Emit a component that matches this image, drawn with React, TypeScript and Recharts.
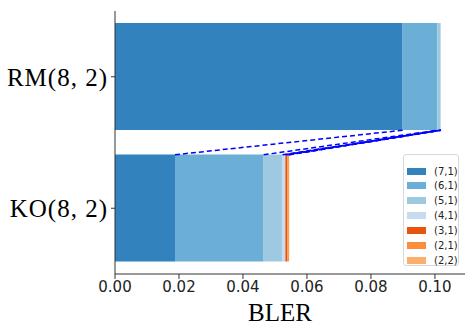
import { BarChart, Bar, XAxis, YAxis, ReferenceLine } from 'recharts';

const codes = ['RM(8, 2)', 'KO(8, 2)'];
const seriesNames = ['(7,1)', '(6,1)', '(5,1)', '(4,1)', '(3,1)', '(2,1)', '(2,2)'];
const rmValues = [0.0899, 0.0108, 0.0009, 0.0003, 0.0, 0.0, 0.0];
const koValues = [0.01875, 0.0277, 0.0059, 0.0009, 0.0006, 0.0005, 0.0001];
const xTicks = [0, 0.02, 0.04, 0.06, 0.08, 0.1];

const colors = ['#3182bd', '#6baed6', '#9ecae1', '#c6dbef', '#e6550d', '#fd8d3c', '#fdae6b'];

const chartData = codes.map((code, i) => {
  const vals = i === 0 ? rmValues : koValues;
  const row: Record<string, any> = { name: code };
  seriesNames.forEach((s, j) => {
    row[s] = vals[j];
  });
  return row;
});

// cumulative boundaries, used for the dashed connecting lines
const cumulative = (vals: number[]) => {
  let sum = 0;
  return vals.map((v) => (sum += v));
};
const rmCum = cumulative(rmValues);
const koCum = cumulative(koValues);

// helper axis runs 0 (top of plot) .. 1 (bottom); each bar covers ~81% of its band
const halfBar = (53.5 / 131.5) / 2;
const rmBottom = 0.25 + halfBar;
const koTop = 0.75 - halfBar;

const LegendBox = () => (
  <div
    style={{
      position: 'absolute',
      left: 403,
      top: 154,
      width: 56,
      height: 112,
      border: '1px solid #d8d8d8',
      borderRadius: 3,
      background: 'rgba(255,255,255,0.8)',
      boxSizing: 'border-box',
      fontFamily: 'DejaVu Sans',
      fontSize: 10,
      color: '#222',
    }}
  >
    {seriesNames.map((s, i) => (
      <div
        key={s}
        style={{ position: 'absolute', left: 3, top: 9 + i * 14.9, height: 14, display: 'flex', alignItems: 'center' }}
      >
        <div style={{ width: 19, height: 7, background: colors[i] }} />
        <span style={{ marginLeft: 8 }}>{s}</span>
      </div>
    ))}
  </div>
);

export default function App() {
  return (
    <div style={{ position: 'absolute', left: 0, top: 0, width: 465, height: 326, background: '#fff' }}>
      <BarChart
        width={465}
        height={326}
        data={chartData}
        layout="vertical"
        margin={{ top: 11, right: 0, left: 0, bottom: 0 }}
        barSize={107}
      >
        <XAxis
          type="number"
          domain={[0, 0.1094]}
          ticks={xTicks}
          allowDataOverflow
          tickFormatter={(v: number) => v.toFixed(2)}
          height={52}
          tickSize={5}
          tickMargin={2}
          stroke="#333"
          tick={{ fontSize: 15, fill: '#222', fontFamily: 'DejaVu Sans' }}
          label={{
            value: 'BLER',
            position: 'insideBottom',
            offset: 5,
            dx: -10,
            style: { fontSize: 25, fill: '#000', fontFamily: 'Liberation Serif' },
          }}
        />
        <YAxis
          type="category"
          dataKey="name"
          width={115}
          tickSize={4}
          tickMargin={3}
          stroke="#333"
          tick={{ fontSize: 25, fill: '#000', fontFamily: 'Liberation Serif', letterSpacing: 1 }}
        />
        <YAxis yAxisId="num" type="number" domain={[0, 1]} allowDataOverflow hide />
        {seriesNames.map((s, i) => (
          <Bar key={s} dataKey={s} stackId="a" fill={colors[i]} isAnimationActive={false} />
        ))}
        {rmCum.map((v, i) =>
          koValues[i] > 0 ? (
            <ReferenceLine
              key={'l' + i}
              yAxisId="num"
              segment={[
                { x: koCum[i], y: koTop },
                { x: v, y: rmBottom },
              ]}
              stroke="#0000ff"
              strokeWidth={1.5}
              strokeDasharray="5 3"
              ifOverflow="visible"
            />
          ) : null
        )}
      </BarChart>
      <LegendBox />
    </div>
  );
}
